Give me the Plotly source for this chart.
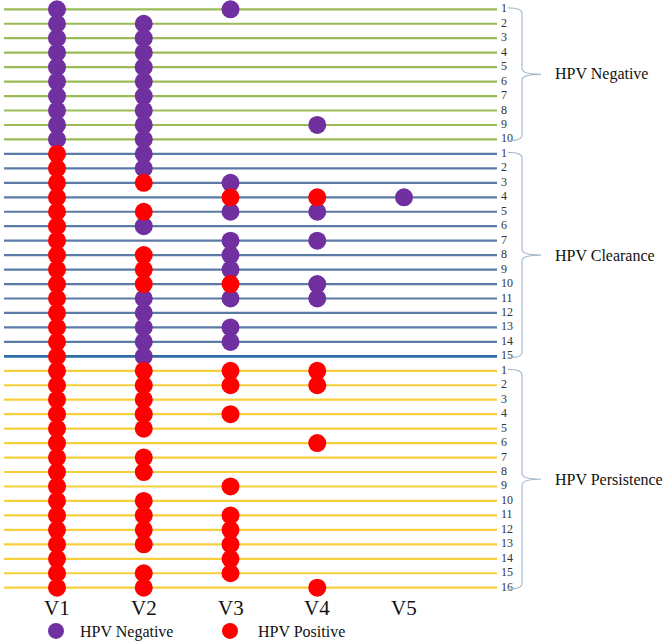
import plotly.graph_objects as go

visits = ["V1", "V2", "V3", "V4", "V5"]
groups = ["HPV Negative", "HPV Clearance", "HPV Persistence"]

# N = HPV negative, P = HPV positive, - = no visit
negative_rows = ["N-N--", "NN---", "NN---", "NN---", "NN---",
                 "NN---", "NN---", "NN---", "NN-N-", "NN---"]
clearance_rows = ["PN---", "PN---", "PPN--", "P-PPN", "PPNN-",
                  "PN---", "P-NN-", "PPN--", "PPN--", "PPPN-",
                  "PNNN-", "PN---", "PNN--", "PNN--", "PN---"]
persistence_rows = ["PPPP-", "PPPP-", "PP---", "PPP--", "PP---",
                    "P--P-", "PP---", "PP---", "P-P--", "PP---",
                    "PPP--", "PPP--", "PPP--", "P-P--", "PPP--",
                    "PP-P-"]

group_rows = [negative_rows, clearance_rows, persistence_rows]
line_colors = ["#9bbb59", "#5b7aa6", "#f7cf3c"]

PURPLE = "#7030a0"
RED = "#ff0000"
SERIF = "Liberation Serif, Times New Roman, serif"
NB = "\u00a0"

# pixel -> data mapping helpers (layout only)
X0PX, DXPX = 57.0, 86.75
Y0PX, DYPX = 9.3, 14.46
def px_x(p):
    return 1 + (p - X0PX) / DXPX
def px_y(p):
    return (p - Y0PX) / DYPX

fig = go.Figure()

row = 0
neg_x, neg_y, pos_x, pos_y = [], [], [], []
label_y, label_txt = [], []
group_spans = []
for g, rows in enumerate(group_rows):
    start = row
    lx, ly = [], []
    for i, r in enumerate(rows):
        if g == 1 and i == len(rows) - 1:
            fig.add_trace(go.Scatter(x=[px_x(4), px_x(497)], y=[row, row], mode="lines",
                                     line=dict(color="#2e6da4", width=2.6),
                                     hoverinfo="skip", showlegend=False))
        else:
            lx += [px_x(4), px_x(497), None]
            ly += [row, row, None]
        for v, c in enumerate(r):
            if c == "N":
                neg_x.append(v + 1); neg_y.append(row)
            elif c == "P":
                pos_x.append(v + 1); pos_y.append(row)
        label_y.append(row); label_txt.append(str(i + 1))
        row += 1
    fig.add_trace(go.Scatter(x=lx, y=ly, mode="lines",
                             line=dict(color=line_colors[g], width=2.2),
                             hoverinfo="skip", showlegend=False))
    group_spans.append((start, row - 1))

fig.add_trace(go.Scatter(x=neg_x, y=neg_y, mode="markers", name=NB + "HPV Negative",
                         cliponaxis=False,
                         marker=dict(color=PURPLE, size=18, line=dict(width=0))))
fig.add_trace(go.Scatter(x=pos_x, y=pos_y, mode="markers", name=NB * 2 + "HPV Positive",
                         cliponaxis=False,
                         marker=dict(color=RED, size=18, line=dict(width=0))))

# row numbers
fig.add_trace(go.Scatter(x=[px_x(501)] * len(label_y), y=label_y, mode="text",
                         text=label_txt, textposition="middle right", cliponaxis=False,
                         textfont=dict(family=SERIF, size=12, color="#333333"),
                         hoverinfo="skip", showlegend=False))

# braces and group labels
for (a, b), name in zip(group_spans, groups):
    top = a - 0.1
    bot = b + 0.1
    mid = (a + b) / 2
    xl, xm, xt = px_x(508), px_x(522), px_x(541)
    k = 0.4
    path = (f"M {xl},{top} Q {xm},{top} {xm},{top + k} L {xm},{mid - k} "
            f"Q {xm},{mid} {xt},{mid} Q {xm},{mid} {xm},{mid + k} "
            f"L {xm},{bot - k} Q {xm},{bot} {xl},{bot}")
    fig.add_shape(type="path", path=path, xref="x", yref="y",
                  line=dict(color="#a9bccf", width=1.2))
    fig.add_annotation(x=px_x(553), y=mid, text=name, showarrow=False,
                       xanchor="left", yanchor="middle",
                       font=dict(family=SERIF, size=16, color="#111111"))

# visit labels
for i, v in enumerate(visits):
    fig.add_annotation(x=i + 1, y=px_y(608), text=v, showarrow=False,
                       xanchor="center", yanchor="middle",
                       font=dict(family=SERIF, size=21, color="#111111"))

fig.update_layout(
    width=666, height=643,
    margin=dict(l=0, r=0, t=0, b=0, autoexpand=False),
    plot_bgcolor="white", paper_bgcolor="white",
    xaxis=dict(range=[px_x(0), px_x(666)], visible=False, fixedrange=True),
    yaxis=dict(range=[px_y(643), px_y(0)], visible=False, fixedrange=True),
    showlegend=True,
    legend=dict(orientation="h", x=36 / 666, y=1 - 631 / 643,
                xanchor="left", yanchor="middle",
                font=dict(family=SERIF, size=16, color="#111111"),
                entrywidth=129, entrywidthmode="pixels",
                itemsizing="trace", bgcolor="rgba(0,0,0,0)"),
)

fig.write_html("out.html", config={"displayModeBar": False},
               post_script="document.body.style.margin='0';")
